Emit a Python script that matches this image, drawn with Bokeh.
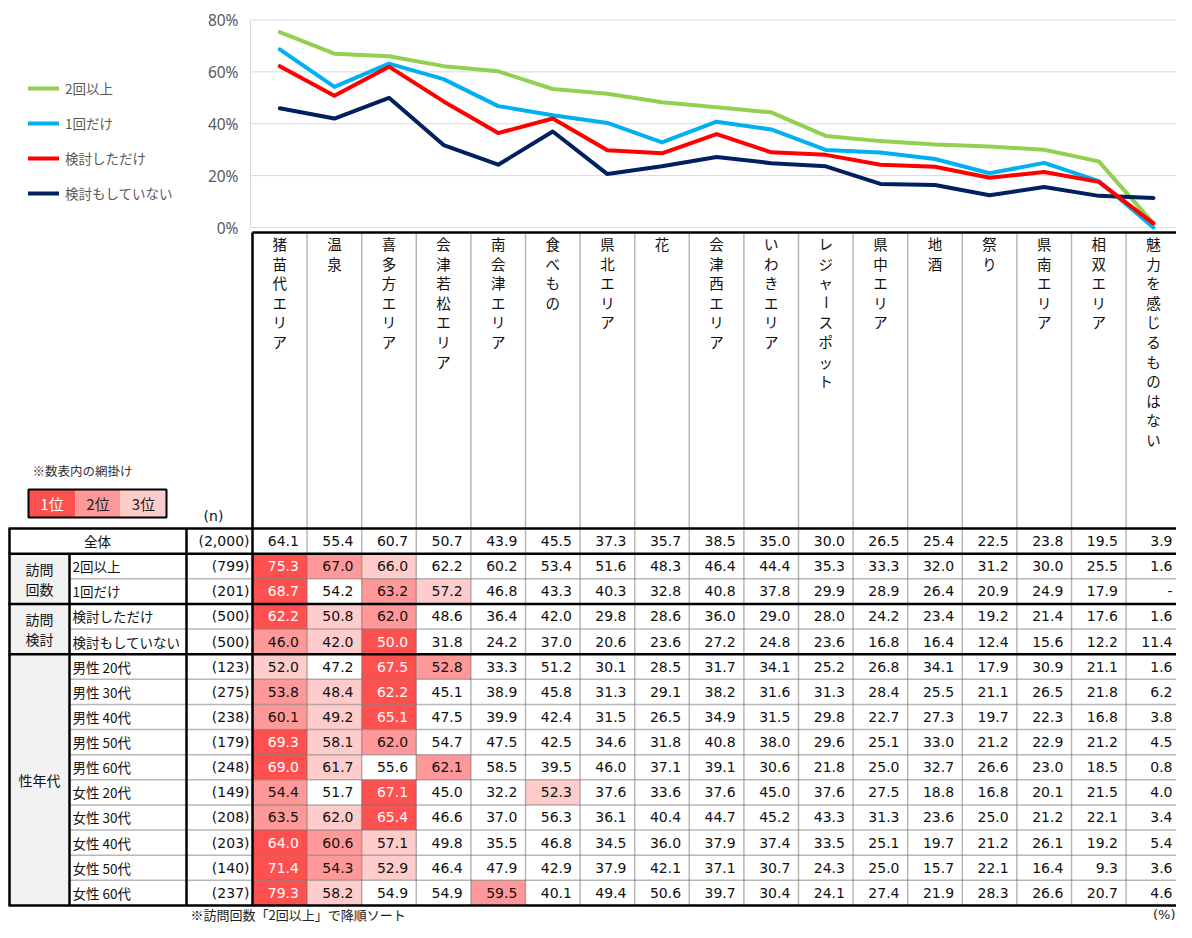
import math
from bokeh.plotting import figure
from bokeh.models import Range1d, Legend, LegendItem
from bokeh.core.properties import value
from bokeh.embed import file_html
from bokeh.resources import INLINE

# ---------------- data ----------------
categories = ["猪苗代エリア", "温泉", "喜多方エリア", "会津若松エリア", "南会津エリア", "食べもの",
              "県北エリア", "花", "会津西エリア", "いわきエリア", "レジャースポット", "県中エリア",
              "地酒", "祭り", "県南エリア", "相双エリア", "魅力を感じるものはない"]

row_labels = ["全体", "2回以上", "1回だけ", "検討しただけ", "検討もしていない",
              "男性 20代", "男性 30代", "男性 40代", "男性 50代", "男性 60代",
              "女性 20代", "女性 30代", "女性 40代", "女性 50代", "女性 60代"]
row_n = ["(2,000)", "(799)", "(201)", "(500)", "(500)",
         "(123)", "(275)", "(238)", "(179)", "(248)",
         "(149)", "(208)", "(203)", "(140)", "(237)"]

group_labels = [["訪問", "回数"], ["訪問", "検討"], ["性年代"]]
group_spans = [(1, 3), (3, 5), (5, 15)]

v_total = [64.1, 55.4, 60.7, 50.7, 43.9, 45.5, 37.3, 35.7, 38.5, 35.0, 30.0, 26.5, 25.4, 22.5, 23.8, 19.5, 3.9]
v_2plus = [75.3, 67.0, 66.0, 62.2, 60.2, 53.4, 51.6, 48.3, 46.4, 44.4, 35.3, 33.3, 32.0, 31.2, 30.0, 25.5, 1.6]
v_once = [68.7, 54.2, 63.2, 57.2, 46.8, 43.3, 40.3, 32.8, 40.8, 37.8, 29.9, 28.9, 26.4, 20.9, 24.9, 17.9, None]
v_consider = [62.2, 50.8, 62.0, 48.6, 36.4, 42.0, 29.8, 28.6, 36.0, 29.0, 28.0, 24.2, 23.4, 19.2, 21.4, 17.6, 1.6]
v_none = [46.0, 42.0, 50.0, 31.8, 24.2, 37.0, 20.6, 23.6, 27.2, 24.8, 23.6, 16.8, 16.4, 12.4, 15.6, 12.2, 11.4]
v_m20 = [52.0, 47.2, 67.5, 52.8, 33.3, 51.2, 30.1, 28.5, 31.7, 34.1, 25.2, 26.8, 34.1, 17.9, 30.9, 21.1, 1.6]
v_m30 = [53.8, 48.4, 62.2, 45.1, 38.9, 45.8, 31.3, 29.1, 38.2, 31.6, 31.3, 28.4, 25.5, 21.1, 26.5, 21.8, 6.2]
v_m40 = [60.1, 49.2, 65.1, 47.5, 39.9, 42.4, 31.5, 26.5, 34.9, 31.5, 29.8, 22.7, 27.3, 19.7, 22.3, 16.8, 3.8]
v_m50 = [69.3, 58.1, 62.0, 54.7, 47.5, 42.5, 34.6, 31.8, 40.8, 38.0, 29.6, 25.1, 33.0, 21.2, 22.9, 21.2, 4.5]
v_m60 = [69.0, 61.7, 55.6, 62.1, 58.5, 39.5, 46.0, 37.1, 39.1, 30.6, 21.8, 25.0, 32.7, 26.6, 23.0, 18.5, 0.8]
v_f20 = [54.4, 51.7, 67.1, 45.0, 32.2, 52.3, 37.6, 33.6, 37.6, 45.0, 37.6, 27.5, 18.8, 16.8, 20.1, 21.5, 4.0]
v_f30 = [63.5, 62.0, 65.4, 46.6, 37.0, 56.3, 36.1, 40.4, 44.7, 45.2, 43.3, 31.3, 23.6, 25.0, 21.2, 22.1, 3.4]
v_f40 = [64.0, 60.6, 57.1, 49.8, 35.5, 46.8, 34.5, 36.0, 37.9, 37.4, 33.5, 25.1, 19.7, 21.2, 26.1, 19.2, 5.4]
v_f50 = [71.4, 54.3, 52.9, 46.4, 47.9, 42.9, 37.9, 42.1, 37.1, 30.7, 24.3, 25.0, 15.7, 22.1, 16.4, 9.3, 3.6]
v_f60 = [79.3, 58.2, 54.9, 54.9, 59.5, 40.1, 49.4, 50.6, 39.7, 30.4, 24.1, 27.4, 21.9, 28.3, 26.6, 20.7, 4.6]

table_rows = [v_total, v_2plus, v_once, v_consider, v_none,
              v_m20, v_m30, v_m40, v_m50, v_m60,
              v_f20, v_f30, v_f40, v_f50, v_f60]

series_names = ["2回以上", "1回だけ", "検討しただけ", "検討もしていない"]
series_values = [v_2plus, v_once, v_consider, v_none]
series_colors = ["#92D050", "#00B0F0", "#FF0000", "#002060"]
pct_ticks = [0, 20, 40, 60, 80]
rank_colors = {1: "#FF5050", 2: "#FF9999", 3: "#FFCCCC"}
rank_legend = ["1位", "2位", "3位"]

# ---------------- layout constants ----------------
W, H = 1176, 922
XC0, CW = 252.0, 54.6          # first data column left edge / column width (px)
Y0PCT, KPCT = 227.0, 2.594     # pixel row of 0% / px per %
TY, RH = 528.0, 25.13          # table body top / row height
HEAD_TOP = 232.0
HEAD_Y0, HEAD_PITCH = 243.0, 19.6
BOTTOM = TY + 15 * RH

JP = value("Noto Sans CJK JP")
NUM = value("DejaVu Sans")

p = figure(width=W, height=H, x_range=Range1d(0, W), y_range=Range1d(H, 0),
           output_backend="svg", toolbar_location=None,
           x_axis_type=None, y_axis_type=None, min_border=0)
p.outline_line_color = None
p.background_fill_color = "white"
p.border_fill_color = "white"
p.extra_x_ranges = {"col": Range1d(-XC0 / CW, (W - XC0) / CW)}
p.extra_y_ranges = {"pct": Range1d((Y0PCT - H) / KPCT, Y0PCT / KPCT),
                    "row": Range1d((H - TY) / RH, -TY / RH)}

# ---------------- line chart ----------------
p.segment(x0=[250] * len(pct_ticks), x1=[W] * len(pct_ticks), y0=pct_ticks, y1=pct_ticks,
          y_range_name="pct", line_color="#D9D9D9", line_width=1)
p.segment(x0=[250], x1=[250], y0=[pct_ticks[0]], y1=[pct_ticks[-1]],
          y_range_name="pct", line_color="#D9D9D9", line_width=1)
p.text(x=[238] * len(pct_ticks), y=pct_ticks, text=[f"{t}%" for t in pct_ticks],
       y_range_name="pct", text_align="right", text_baseline="middle",
       text_font=value("Noto Sans"), text_font_size="15.5px", text_color="#595959")

xs = [i + 0.5 for i in range(len(categories))]
series = {}
for name, vals, col in zip(series_names, series_values, series_colors):
    series[name] = ([0.0 if v is None else v for v in vals], col)

line_r = {}
for name in ["2回以上", "1回だけ", "検討もしていない", "検討しただけ"]:
    yv, col = series[name]
    line_r[name] = p.line(x=xs, y=yv, x_range_name="col", y_range_name="pct",
                          line_color=col, line_width=4, line_join="round", line_cap="round")

legend = Legend(items=[LegendItem(label=n, renderers=[line_r[n]]) for n in series_names],
                location=(28, H - 203), orientation="vertical",
                glyph_width=31, glyph_height=20, label_height=20, spacing=15,
                padding=0, margin=0, label_standoff=6,
                border_line_color=None, background_fill_alpha=0,
                label_text_font="Noto Sans CJK JP", label_text_font_size="13.5px",
                label_text_color="#595959")
p.add_layout(legend)

# ---------------- table backgrounds ----------------
p.quad(left=[9] * len(group_spans), right=[69] * len(group_spans),
       top=[s for s, e in group_spans], bottom=[e for s, e in group_spans],
       y_range_name="row", fill_color="#F2F2F2", line_color=None)

hl_l, hl_t, hl_c = [], [], []
cx, cy, ct, cc = [], [], [], []
for r, row in enumerate(table_rows):
    for c, v in enumerate(row):
        rank = None
        if r >= 1 and v is not None:
            rank = 1 + sum(1 for w in row if w is not None and w > v)
            if rank <= 3:
                hl_l.append(c)
                hl_t.append(r)
                hl_c.append(rank_colors[rank])
        cx.append(c + 0.85)
        cy.append(r + 0.5)
        ct.append("-" if v is None else f"{v:.1f}")
        cc.append("#FFFFFF" if rank == 1 else "#111111")

p.quad(left=hl_l, right=[l + 1 for l in hl_l], top=hl_t, bottom=[t + 1 for t in hl_t],
       x_range_name="col", y_range_name="row", fill_color=hl_c, line_color=None)

# ---------------- table lines ----------------
ncol = len(categories)
p.segment(x0=list(range(1, ncol + 1)), x1=list(range(1, ncol + 1)),
          y0=[HEAD_TOP] * ncol, y1=[BOTTOM] * ncol, x_range_name="col",
          line_color="#6F6F6F", line_width=1.5, line_dash="1 1")
dot_rows = [2, 4] + list(range(6, 15))
p.segment(x0=[69] * len(dot_rows), x1=[W] * len(dot_rows), y0=dot_rows, y1=dot_rows,
          y_range_name="row", line_color="#6F6F6F", line_width=1.5, line_dash="1 1")
thick_rows = [0, 1, 3, 5, 15]
p.segment(x0=[8] * len(thick_rows), x1=[W] * len(thick_rows), y0=thick_rows, y1=thick_rows,
          y_range_name="row", line_color="black", line_width=2.5)
p.segment(x0=[9, 69, 186], x1=[9, 69, 186], y0=[0, 1, 0], y1=[15, 15, 15],
          y_range_name="row", line_color="black", line_width=2.5)
p.segment(x0=[XC0, XC0], x1=[W, XC0], y0=[HEAD_TOP, HEAD_TOP], y1=[HEAD_TOP, BOTTOM],
          line_color="black", line_width=2.5)

# ---------------- table texts ----------------
p.text(x=cx, y=cy, text=ct, text_color=cc, x_range_name="col", y_range_name="row",
       text_align="right", text_baseline="middle", text_font=NUM, text_font_size="14px")

lab_x = [97 if i == 0 else 72 for i in range(len(row_labels))]
lab_a = ["center" if i == 0 else "left" for i in range(len(row_labels))]
p.text(x=lab_x, y=[i + 0.5 for i in range(len(row_labels))], text=row_labels, text_align=lab_a,
       y_range_name="row", text_baseline="middle", text_font=JP, text_font_size="13.5px",
       text_color="#111111")
p.text(x=[249] * len(row_n), y=[i + 0.5 for i in range(len(row_n))], text=row_n,
       y_range_name="row", text_align="right", text_baseline="middle",
       text_font=NUM, text_font_size="14px", text_color="#111111")

gx, gy, gt = [], [], []
for lines, (s, e) in zip(group_labels, group_spans):
    mid = (s + e) / 2
    n = len(lines)
    for k, t in enumerate(lines):
        gx.append(39)
        gy.append(mid + (k - (n - 1) / 2) * (20.0 / RH))
        gt.append(t)
p.text(x=gx, y=gy, text=gt, y_range_name="row", text_align="center", text_baseline="middle",
       text_font=JP, text_font_size="14px", text_color="#111111")

hx, hy, ht, ha = [], [], [], []
for c, name in enumerate(categories):
    for k, ch in enumerate(name):
        hx.append(c + 0.5)
        hy.append(HEAD_Y0 + k * HEAD_PITCH)
        ht.append(ch)
        ha.append(math.pi / 2 if ch == "ー" else 0.0)
p.text(x=hx, y=hy, text=ht, angle=ha, x_range_name="col", text_align="center",
       text_baseline="middle", text_font=JP, text_font_size="14.5px", text_color="#111111")

# rank legend block
p.text(x=[32], y=[470], text=["※数表内の網掛け"], text_align="left", text_baseline="middle",
       text_font=JP, text_font_size="12.5px", text_color="#333333")
bl = [28, 75, 120]
br = [75, 120, 166]
p.quad(left=bl, right=br, top=[489] * 3, bottom=[517] * 3,
       fill_color=[rank_colors[1], rank_colors[2], rank_colors[3]], line_color=None)
p.quad(left=[28], right=[166], top=[489], bottom=[517], fill_color=None,
       line_color="black", line_width=2)
p.text(x=[(a + b) / 2 for a, b in zip(bl, br)], y=[503] * 3, text=rank_legend,
       text_color=["#FFFFFF", "#222222", "#222222"], text_align="center", text_baseline="middle",
       text_font=JP, text_font_size="15px")

p.text(x=[213], y=[515], text=["(n)"], text_align="center", text_baseline="middle",
       text_font=NUM, text_font_size="14px", text_color="#111111")

p.text(x=[190], y=[914], text=["※訪問回数「2回以上」で降順ソート"], text_align="left",
       text_baseline="middle", text_font=JP, text_font_size="13px", text_color="#222222")
p.text(x=[1175], y=[914], text=["(%)"], text_align="right", text_baseline="middle",
       text_font=NUM, text_font_size="13px", text_color="#222222")

open("out.html", "w").write(file_html(p, INLINE))
